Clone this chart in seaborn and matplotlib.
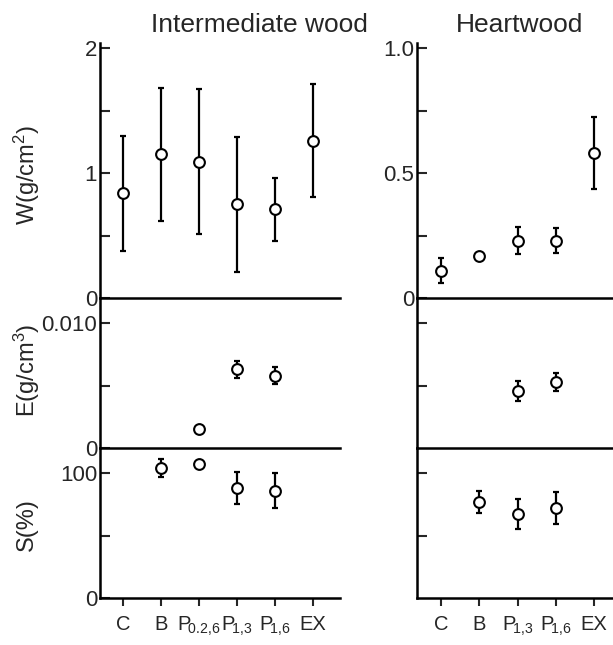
import numpy as np
import pandas as pd
import seaborn as sns
import matplotlib
import matplotlib.pyplot as plt
matplotlib.use('Agg')

nan = np.nan

# Kategorie (oś x)
inter_cats = ["C", "B", r"P$\!_{0.2{,}6}$", r"P$\!_{1{,}3}$", r"P$\!_{1{,}6}$", "EX"]
heart_cats = ["C", "B", r"P$\!_{1{,}3}$", r"P$\!_{1{,}6}$", "EX"]

# Intermediate wood: średnie i odchylenia
inter_W = [0.84, 1.15, 1.09, 0.75, 0.71, 1.26]
inter_W_sd = [0.46, 0.53, 0.58, 0.54, 0.25, 0.45]
inter_E = [nan, nan, 0.0015, 0.0063, 0.0058, nan]
inter_E_sd = [nan, nan, nan, 0.0007, 0.0007, nan]
inter_S = [nan, 104, 107, 88, 86, nan]
inter_S_sd = [nan, 7, nan, 13, 14, nan]

# Heartwood
heart_W = [0.11, 0.17, 0.23, 0.23, 0.58]
heart_W_sd = [0.05, nan, 0.055, 0.05, 0.145]
heart_E = [nan, nan, 0.0046, 0.0053, nan]
heart_E_sd = [nan, nan, 0.0008, 0.0007, nan]
heart_S = [nan, 77, 67, 72, nan]
heart_S_sd = [nan, 9, 12, 13, nan]

sns.set_style("ticks")
plt.rcParams['font.family'] = ['Liberation Sans', 'DejaVu Sans']
plt.rcParams['mathtext.fontset'] = 'custom'
plt.rcParams['mathtext.rm'] = 'Liberation Sans'
plt.rcParams['mathtext.it'] = 'Liberation Sans'

W_, H_ = 613, 645
fig = plt.figure(figsize=(W_ / 100, H_ / 100), dpi=100)
fig.patch.set_facecolor('white')


def box(x0, x1, ytop, ybot):
    return [x0 / W_, 1 - ybot / H_, (x1 - x0) / W_, (ybot - ytop) / H_]


FS = 16


def panel(rect, vals, sds, xlim, ylim, yticks, ylabels, show_x=False, cats=None):
    ax = fig.add_axes(rect)
    df = pd.DataFrame({"x": np.arange(len(vals)), "y": vals, "sd": sds})
    ax.errorbar(df["x"], df["y"], yerr=df["sd"], fmt='none', ecolor='black',
                elinewidth=1.6, capsize=2.5, capthick=1.6, zorder=2)
    sns.scatterplot(data=df.dropna(subset=["y"]), x="x", y="y", ax=ax, marker='o',
                    s=60, color='white', edgecolor='black', linewidth=1.5,
                    zorder=3, legend=False)
    ax.set_xlim(*xlim)
    ax.set_ylim(*ylim)
    ax.set_yticks(yticks)
    ax.set_yticklabels(ylabels, fontsize=FS)
    ax.tick_params(axis='y', direction='in', length=7, width=1.5, pad=2)
    if show_x:
        ax.set_xticks(np.arange(len(cats)))
        ax.set_xticklabels(cats, fontsize=14.5)
        ax.tick_params(axis='x', direction='out', length=6, width=1.5, pad=6)
    else:
        ax.set_xticks([])
    ax.set_xlabel("")
    ax.set_ylabel("")
    for side in ["top", "right"]:
        ax.spines[side].set_visible(False)
    for side in ["left", "bottom"]:
        ax.spines[side].set_linewidth(1.8)
        ax.spines[side].set_color('black')
    ax.patch.set_visible(False)
    return ax


# Lewa kolumna
lx = (-0.605, 5.71)
panel(box(100, 340, 43, 298), inter_W, inter_W_sd, lx, (0, 2.04),
      [0, 0.5, 1, 1.5, 2], ["0", "", "1", "", "2"])
panel(box(100, 340, 298, 448), inter_E, inter_E_sd, lx, (0, 0.012),
      [0, 0.005, 0.010], ["0", "", "0.010"])
panel(box(100, 340, 448, 598), inter_S, inter_S_sd, lx, (0, 120),
      [0, 50, 100], ["0", "", "100"], show_x=True, cats=inter_cats)

# Prawa kolumna
rx = (-0.627, 4.49)
panel(box(417, 613, 43, 298), heart_W, heart_W_sd, rx, (0, 1.02),
      [0, 0.25, 0.5, 0.75, 1.0], ["0", "", "0.5", "", "1.0"])
panel(box(417, 613, 298, 448), heart_E, heart_E_sd, rx, (0, 0.012),
      [0.005, 0.010], ["", ""])
panel(box(417, 613, 448, 598), heart_S, heart_S_sd, rx, (0, 120),
      [50, 100], ["", ""], show_x=True, cats=heart_cats)

# Tytuły i opisy osi
fig.text(259 / W_, 1 - 25 / H_, "Intermediate wood", fontsize=19, ha='center', va='center')
fig.text(520 / W_, 1 - 25 / H_, "Heartwood", fontsize=19, ha='center', va='center')
fig.text(27 / W_, 1 - 175 / H_, "W(g/cm$^2$)", fontsize=17, rotation=90, ha='center', va='center')
fig.text(27 / W_, 1 - 370 / H_, "E(g/cm$^3$)", fontsize=17, rotation=90, ha='center', va='center')
fig.text(27 / W_, 1 - 525 / H_, "S(%)", fontsize=17, rotation=90, ha='center', va='center')

fig.savefig("out.png", dpi=100, facecolor='white')
